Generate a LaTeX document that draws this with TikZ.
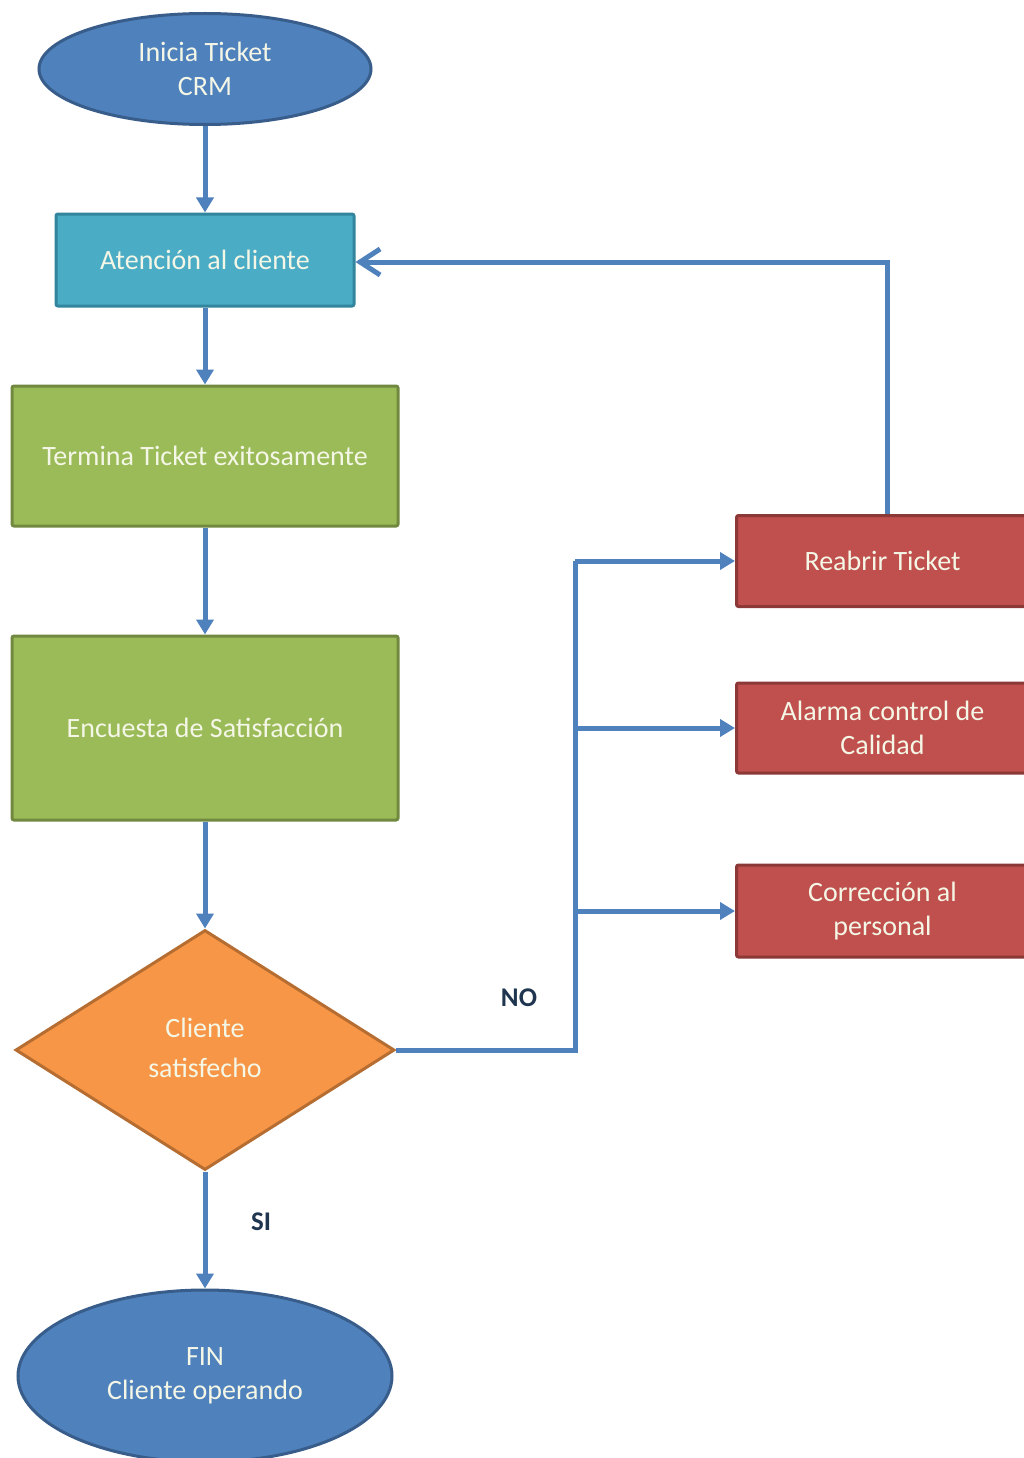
\documentclass[tikz,border=0pt]{standalone}
\usepackage{fontspec}
\setmainfont{Carlito}
\usetikzlibrary{shapes.geometric,arrows.meta}
\definecolor{cblue}{HTML}{4F81BD}
\definecolor{cblueb}{HTML}{385D8A}
\definecolor{cteal}{HTML}{4BACC6}
\definecolor{ctealb}{HTML}{31859C}
\definecolor{cgreen}{HTML}{9BBB59}
\definecolor{cgreenb}{HTML}{71893F}
\definecolor{corange}{HTML}{F79646}
\definecolor{corangeb}{HTML}{B66D31}
\definecolor{cred}{HTML}{C0504D}
\definecolor{credb}{HTML}{8C3836}
\definecolor{ctext}{HTML}{F4F6E6}
\definecolor{clabel}{HTML}{1F3550}
\tikzset{
  base/.style={line width=3pt, text=ctext, align=center, inner sep=0pt,
    font=\fontsize{28}{34}\selectfont},
  term/.style={base, ellipse, draw=cblueb, fill=cblue},
  procteal/.style={base, rectangle, rounded corners=2pt, draw=ctealb, fill=cteal},
  procgreen/.style={base, rectangle, rounded corners=2pt, draw=cgreenb, fill=cgreen},
  procred/.style={base, rectangle, rounded corners=2pt, draw=credb, fill=cred},
  decision/.style={base, diamond, draw=corangeb, fill=corange, font=\fontsize{28}{40}\selectfont},
  conn/.style={draw=cblue, line width=5pt, -{Triangle[length=15pt,width=17pt]}},
  connline/.style={draw=cblue, line width=5pt},
  lbl/.style={text=clabel, font=\bfseries\fontsize{27}{30}\selectfont}
}
\begin{document}
\begin{tikzpicture}[x=1pt,y=-1pt]
\useasboundingbox (0,0) rectangle (1023,1458);
\fill[white] (0,0) rectangle (1023,1458);

\node[term, minimum width=332pt, minimum height=111pt] (start) at (205,69) {Inicia Ticket\\CRM};
\node[procteal, minimum width=298pt, minimum height=92pt] (aten) at (205,260) {Atención al cliente};
\node[procgreen, minimum width=386pt, minimum height=140pt] (term) at (205,456) {Termina Ticket exitosamente};
\node[procgreen, minimum width=386pt, minimum height=184pt] (enc) at (205,728) {Encuesta de Satisfacción};
\node[decision, minimum width=379pt, minimum height=240pt] (dec) at (205,1050) {\raisebox{4pt}{Cliente}\\\raisebox{4pt}{satisfecho}};
\node[term, minimum width=374pt, minimum height=172pt] (fin) at (205,1376) {FIN\\Cliente operando};

\node[procred, minimum width=300pt, minimum height=91pt, anchor=west] (reab) at (735,561) {\hspace*{-8pt}Reabrir Ticket};
\node[procred, minimum width=300pt, minimum height=90pt, anchor=west] (alar) at (735,728) {\hspace*{-8pt}Alarma control de\\\hspace*{-8pt}Calidad};
\node[procred, minimum width=300pt, minimum height=92pt, anchor=west] (corr) at (735,911) {\hspace*{-8pt}Corrección al\\\hspace*{-8pt}personal};

\coordinate (busTop) at (575,561);
\coordinate (busMid) at (575,728);
\coordinate (busLow) at (575,911);
\coordinate (busBot) at (575,1050);
\coordinate (loopTop) at (887,262);

\draw[conn] (start.south) -- (aten.north);
\draw[conn] (aten.south) -- (term.north);
\draw[conn] (term.south) -- (enc.north);
\draw[conn] (enc.south) -- (dec.north);
\draw[conn] (dec.south) -- (fin.north);

\draw[connline, line join=miter] (dec.east) -- (busBot) -- (busTop);
\draw[conn] (busTop) -- (reab.west);
\draw[conn] (busMid) -- (alar.west);
\draw[conn] (busLow) -- (corr.west);

\draw[draw=cblue, line width=5pt, line join=miter, -{Straight Barb[length=20pt,width=26pt,line width=5pt]}]
  (reab.north -| loopTop) -- (loopTop) -- (aten.east |- loopTop);

\node[lbl] (no) at (519,998) {NO};
\node[lbl] (si) at (261,1222) {SI};
\end{tikzpicture}
\end{document}
